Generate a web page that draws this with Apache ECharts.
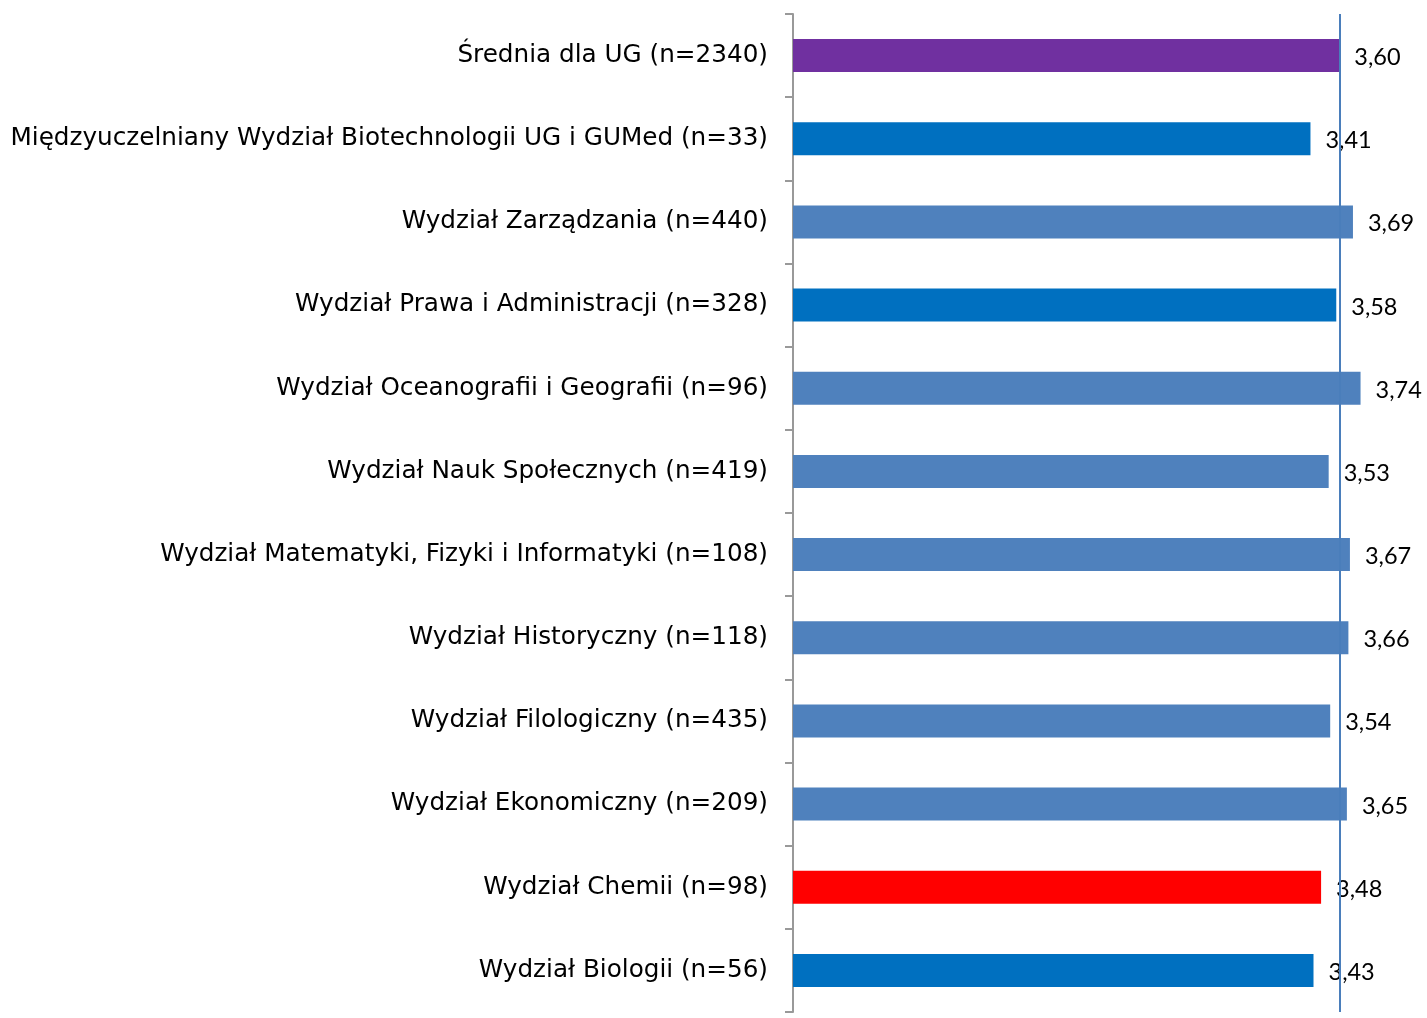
<!DOCTYPE html>
<html>
<head>
<meta charset="utf-8">
<script src="https://cdn.jsdelivr.net/npm/echarts@6/dist/echarts.min.js"></script>
<style>
  html, body { margin: 0; padding: 0; background: #fff; }
  #main { width: 1427px; height: 1018px; }
</style>
</head>
<body>
<div id="main"></div>
<script>
var categories = [
    'Średnia dla UG (n=2340)',
    'Międzyuczelniany Wydział Biotechnologii UG i GUMed (n=33)',
    'Wydział Zarządzania (n=440)',
    'Wydział Prawa i Administracji (n=328)',
    'Wydział Oceanografii i Geografii (n=96)',
    'Wydział Nauk Społecznych (n=419)',
    'Wydział Matematyki, Fizyki i Informatyki (n=108)',
    'Wydział Historyczny (n=118)',
    'Wydział Filologiczny (n=435)',
    'Wydział Ekonomiczny (n=209)',
    'Wydział Chemii (n=98)',
    'Wydział Biologii (n=56)'
];
var values = [3.60, 3.41, 3.69, 3.58, 3.74, 3.53, 3.67, 3.66, 3.54, 3.65, 3.48, 3.43];
var barColors = ['#7030A0', '#0070C0', '#4F81BD', '#0070C0', '#4F81BD', '#4F81BD',
                 '#4F81BD', '#4F81BD', '#4F81BD', '#4F81BD', '#FF0000', '#0070C0'];
var meanValue = 3.60;

var mychart = echarts.init(document.getElementById('main'));

var option = {
    animation: false,
    grid: {
        left: 793,
        right: 27,
        top: 14,
        bottom: 6
    },
    xAxis: {
        type: 'value',
        min: 0,
        max: 4,
        show: false
    },
    yAxis: {
        type: 'category',
        inverse: true,
        data: categories,
        axisLine: { lineStyle: { color: '#999999', width: 2 } },
        axisTick: { show: true, length: 8, lineStyle: { color: '#999999', width: 2 } },
        axisLabel: {
            margin: 25,
            color: '#000',
            fontFamily: 'DejaVu Sans',
            fontSize: 24.7,
            padding: [5, 0, 0, 0]
        }
    },
    series: [{
        type: 'bar',
        barWidth: 33,
        data: values.map(function (v, i) {
            return { value: v, itemStyle: { color: barColors[i] } };
        }),
        label: {
            show: true,
            position: 'right',
            distance: 15,
            color: '#000',
            fontFamily: 'Lato',
            fontSize: 23.5,
            offset: [0, 2],
            formatter: function (p) { return p.value.toFixed(2).replace('.', ','); }
        },
        markLine: {
            silent: true,
            symbol: 'none',
            label: { show: false },
            lineStyle: { color: '#4A7EBB', width: 2, type: 'solid' },
            data: [{ xAxis: meanValue }]
        },
        z: 2
    }]
};

mychart.setOption(option);
</script>
</body>
</html>
